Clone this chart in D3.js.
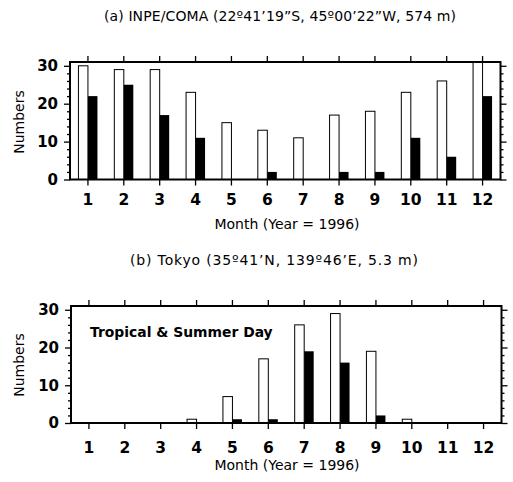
<!DOCTYPE html>
<html>
<head>
<meta charset="utf-8">
<script src="https://cdn.jsdelivr.net/npm/d3@7"></script>
<style>
    body { margin: 0; background: #fff; }
    svg { display: block; }
    text { font-family: "DejaVu Sans", sans-serif; fill: #000; }
</style>
</head>
<body>
<svg id="chart" width="513" height="482"></svg>
<script>
// month numbers on the x axis
const months = [1, 2, 3, 4, 5, 6, 7, 8, 9, 10, 11, 12];
const yTicks = [0, 10, 20, 30];

// (a) INPE/COMA - white and black bars
const inpeWhite = [30, 29, 29, 23, 15, 13, 11, 17, 18, 23, 26, 31];
const inpeBlack = [22, 25, 17, 11, 0, 2, 0, 2, 2, 11, 6, 22];

// (b) Tokyo - tropical & summer days
const tokyoWhite = [0, 0, 0, 1, 7, 17, 26, 29, 19, 1, 0, 0];
const tokyoBlack = [0, 0, 0, 0, 1, 1, 19, 16, 2, 0, 0, 0];

const svg = d3.select("#chart");

drawPanel({
    title: "(a) INPE/COMA (22º41’19”S, 45º00’22”W, 574 m)",
    titleX: 280, titleY: 21, titleW: 352,
    left: 70, right: 500.5, top: 62, bottom: 179.5,
    white: inpeWhite, black: inpeBlack,
    tickLabelDy: 25, xTitleY: 229, yTitleY: 122
});

drawPanel({
    title: "(b) Tokyo (35º41’N, 139º46’E, 5.3 m)",
    titleX: 274, titleY: 265, titleW: 288,
    left: 71, right: 501.5, top: 306, bottom: 423,
    white: tokyoWhite, black: tokyoBlack,
    tickLabelDy: 30, xTitleY: 470, yTitleY: 365,
    note: "Tropical & Summer Day"
});

function drawPanel(cfg) {
    const g = svg.append("g");

    const x = d3.scaleBand()
        .domain(months)
        .range([cfg.left, cfg.right])
        .padding(0);

    const y = d3.scaleLinear()
        .domain([0, 31])
        .range([cfg.bottom, cfg.top]);

    const barW = 9.5;
    const mid = m => x(m) + x.bandwidth() / 2;

    // white bars left of the tick, black bars right of it
    g.selectAll(".white")
        .data(months)
        .enter()
        .append("rect")
        .attr("x", m => mid(m) - barW)
        .attr("y", (m, i) => y(cfg.white[i]))
        .attr("width", barW)
        .attr("height", (m, i) => y(0) - y(cfg.white[i]))
        .attr("fill", "#fff")
        .attr("stroke", "#000")
        .attr("stroke-width", 1);

    g.selectAll(".black")
        .data(months)
        .enter()
        .append("rect")
        .attr("x", m => mid(m))
        .attr("y", (m, i) => y(cfg.black[i]))
        .attr("width", barW)
        .attr("height", (m, i) => y(0) - y(cfg.black[i]))
        .attr("fill", "#000");

    // frame
    g.append("rect")
        .attr("x", cfg.left)
        .attr("y", cfg.top)
        .attr("width", cfg.right - cfg.left)
        .attr("height", cfg.bottom - cfg.top)
        .attr("fill", "none")
        .attr("stroke", "#000")
        .attr("stroke-width", 2);

    // x ticks, outward at bottom and top
    const xBottom = d3.axisBottom(x).tickSize(6).tickSizeOuter(0).tickFormat("");
    const xTop = d3.axisTop(x).tickSize(6).tickSizeOuter(0).tickFormat("");
    g.append("g").attr("transform", `translate(0,${cfg.bottom})`).call(xBottom);
    g.append("g").attr("transform", `translate(0,${cfg.top})`).call(xTop);

    // y ticks: major every 10, minor every 2, outward both sides
    const minor = d3.range(0, 31, 2).filter(v => v % 10 !== 0);
    const yLeft = d3.axisLeft(y).tickValues(yTicks).tickSize(6).tickSizeOuter(0).tickFormat("");
    const yLeftMinor = d3.axisLeft(y).tickValues(minor).tickSize(3).tickSizeOuter(0).tickFormat("");
    const yRight = d3.axisRight(y).tickValues(yTicks).tickSize(6).tickSizeOuter(0).tickFormat("");
    const yRightMinor = d3.axisRight(y).tickValues(minor).tickSize(3).tickSizeOuter(0).tickFormat("");
    g.append("g").attr("transform", `translate(${cfg.left},0)`).call(yLeft);
    g.append("g").attr("transform", `translate(${cfg.left},0)`).call(yLeftMinor);
    g.append("g").attr("transform", `translate(${cfg.right},0)`).call(yRight);
    g.append("g").attr("transform", `translate(${cfg.right},0)`).call(yRightMinor);

    g.selectAll(".domain").remove();
    g.selectAll(".tick line").attr("stroke", "#000").attr("stroke-width", 1.3);

    // tick labels
    g.selectAll(".ylab")
        .data(yTicks)
        .enter()
        .append("text")
        .attr("x", cfg.left - 12)
        .attr("y", d => y(d))
        .attr("dy", "0.36em")
        .attr("text-anchor", "end")
        .style("font-size", "15px")
        .style("font-weight", "bold")
        .text(d => d);

    g.selectAll(".xlab")
        .data(months)
        .enter()
        .append("text")
        .attr("x", m => mid(m))
        .attr("y", cfg.bottom + cfg.tickLabelDy)
        .attr("text-anchor", "middle")
        .style("font-size", "15.5px")
        .style("font-weight", "bold")
        .text(m => m);

    // titles
    g.append("text")
        .attr("x", cfg.titleX)
        .attr("y", cfg.titleY)
        .attr("text-anchor", "middle")
        .attr("textLength", cfg.titleW)
        .attr("lengthAdjust", "spacing")
        .style("font-size", "14px")
        .text(cfg.title);

    g.append("text")
        .attr("x", 287)
        .attr("y", cfg.xTitleY)
        .attr("text-anchor", "middle")
        .style("font-size", "14px")
        .text("Month (Year = 1996)");

    g.append("text")
        .attr("transform", `translate(24,${cfg.yTitleY}) rotate(-90)`)
        .attr("text-anchor", "middle")
        .style("font-size", "14px")
        .text("Numbers");

    if (cfg.note) {
        g.append("text")
            .attr("x", 90)
            .attr("y", 337)
            .style("font-size", "13.9px")
            .style("font-weight", "bold")
            .text(cfg.note);
    }
}
</script>
</body>
</html>
